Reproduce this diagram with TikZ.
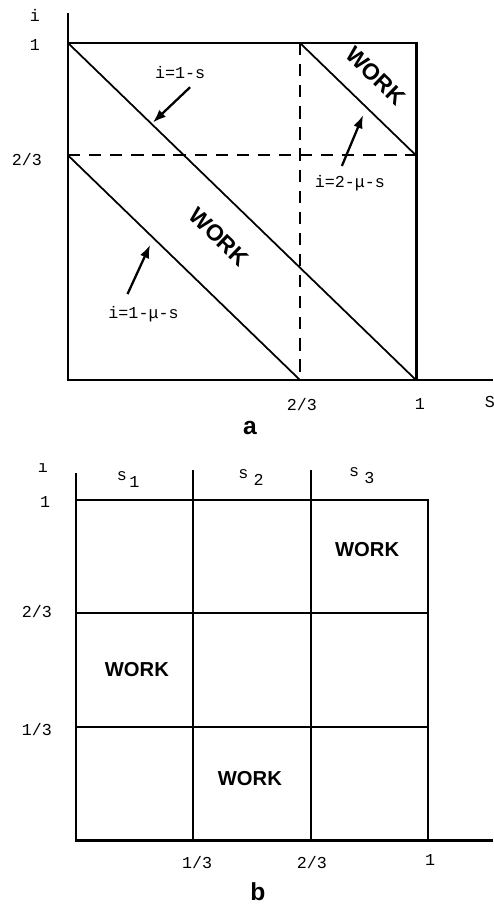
\documentclass[tikz,border=0pt]{standalone}
\usepackage{fontspec}
\setmainfont{Liberation Sans}
\setmonofont{Liberation Mono}
\usetikzlibrary{arrows.meta}
\tikzset{
  frame/.style={line width=1.7pt},
  diag/.style={line width=1pt},
  guide/.style={line width=1.1pt, dash pattern=on 7pt off 5pt},
  cell/.style={line width=1.1pt},
  lbl/.style={font=\ttfamily\fontsize{9.5}{11}\selectfont, inner sep=1pt},
  work/.style={font=\bfseries\fontsize{11.5}{13}\selectfont, inner sep=0pt},
  bigwork/.style={work, font=\bfseries\fontsize{13}{15}\selectfont, rotate=-44},
  pointer/.style={-{Latex[length=7.5pt,width=5.5pt]}, line width=1.3pt},
  panel/.style={font=\bfseries\fontsize{14}{16}\selectfont}
}

\begin{document}
\begin{tikzpicture}
  \useasboundingbox (0,0) rectangle (9.86,-18.10);

  % (a) continuous regions
  \begin{scope}[shift={(1.36,-7.60)}, x=6.96cm, y=6.74cm]
    \draw[frame] (0,1.089) -- (0,0) -- (1.221,0);
    \draw[frame] (0,1) -- (1,1) -- (1,0);
    \draw[guide] (0,2/3) -- (1,2/3);
    \draw[guide] (2/3,1) -- (2/3,0);
    \draw[diag] (0,1) -- (1,0);
    \draw[diag] (0,2/3) -- (2/3,0);
    \draw[diag] (2/3,1) -- (1,2/3);

    \node[lbl] (aAxisI) at (-0.095,1.083) {i};
    \node[lbl] (aOneI) at (-0.095,0.994) {1};
    \node[lbl] (aTwoI) at (-0.118,0.653) {2/3};
    \node[lbl] (aTwoS) at (0.672,-0.074) {2/3};
    \node[lbl] (aOneS) at (1.011,-0.071) {1};
    \node[lbl] (aAxisS) at (1.212,-0.065) {S};

    \node[bigwork] (workUp) at (0.884,0.902) {WORK};
    \node[bigwork] (workMid) at (0.434,0.424) {WORK};

    \node[lbl] (lineOne) at (0.322,0.911) {i=1-s};
    \node[lbl] (lineTwo) at (0.810,0.585) {i=2-μ-s};
    \node[lbl] (lineLow) at (0.217,0.196) {i=1-μ-s};

    \coordinate (tipOne) at (0.244,0.764);
    \coordinate (tipTwo) at (0.848,0.786);
    \coordinate (tipLow) at (0.236,0.401);

    \draw[pointer] ([shift={(2mm,-1.2mm)}]lineOne.south) -- (tipOne);
    \draw[pointer] ([shift={(-1.6mm,1.4mm)}]lineTwo.north) -- (tipTwo);
    \draw[pointer] ([shift={(-3.2mm,2mm)}]lineLow.north) -- (tipLow);
  \end{scope}
  \node[panel] (capA) at (5.0,-8.56) {a};

  % (b) discrete cells
  \begin{scope}[shift={(1.52,-16.80)}, x=7.04cm, y=6.8cm]
    \draw[frame] (0,1.079) -- (0,0) -- (1.185,0);
    \draw[frame] (0,1) -- (1,1) -- (1,0);
    \foreach \k in {1,2} {
      \draw[cell] (\k/3,0) -- (\k/3,1.088);
      \draw[cell] (0,\k/3) -- (1,\k/3);
    }

    \node[lbl] (bAxisI) at (-0.094,1.094) {\i};
    \node[lbl] (bOneI) at (-0.088,0.994) {1};
    \node[lbl] (bTwoI) at (-0.111,0.671) {2/3};
    \node[lbl] (bThirdI) at (-0.111,0.324) {1/3};
    \node[lbl] (bThirdS) at (0.344,-0.065) {1/3};
    \node[lbl] (bTwoS) at (0.670,-0.065) {2/3};
    \node[lbl] (bOneS) at (1.006,-0.059) {1};
    \node[lbl] (bAxisS) at (1.200,-0.065) {S};

    \node[lbl] (colOne) at (0.148,1.059) {s\hspace{1.5pt}\raisebox{-4pt}{1}};
    \node[lbl] (colTwo) at (0.497,1.065) {s\hspace{3pt}\raisebox{-4pt}{2}};
    \node[lbl] (colThree) at (0.812,1.071) {s\hspace{3pt}\raisebox{-4pt}{3}};

    \node[work] (workHigh) at (0.827,0.853) {WORK};
    \node[work] (workLeft) at (0.173,0.500) {WORK};
    \node[work] (workLow) at (0.494,0.182) {WORK};
  \end{scope}
  \node[panel] (capB) at (5.16,-17.84) {b};
\end{tikzpicture}
\end{document}
